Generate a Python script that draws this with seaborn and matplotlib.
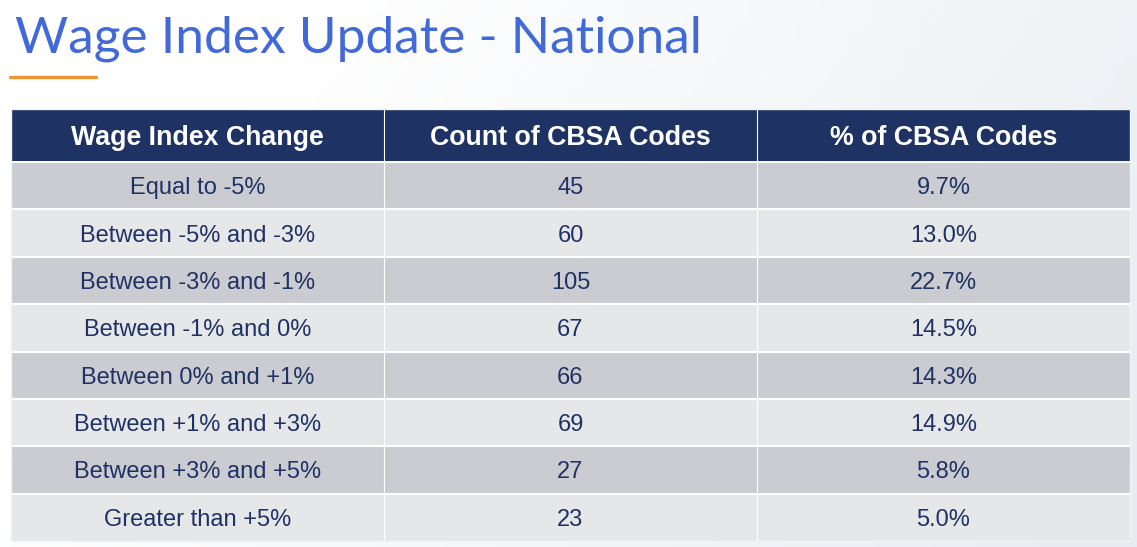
import matplotlib
matplotlib.use('Agg')

import numpy as np
import pandas as pd
import seaborn as sns
import matplotlib.pyplot as plt
from matplotlib.colors import ListedColormap

title = "Wage Index Update - National"
columns = ["Wage Index Change", "Count of CBSA Codes", "% of CBSA Codes"]
changes = ["Equal to -5%", "Between -5% and -3%", "Between -3% and -1%", "Between -1% and 0%",
           "Between 0% and +1%", "Between +1% and +3%", "Between +3% and +5%", "Greater than +5%"]
counts = [45, 60, 105, 67, 66, 69, 27, 23]
shares = [9.7, 13.0, 22.7, 14.5, 14.3, 14.9, 5.8, 5.0]

navy = "#1f3264"
dark_row = "#cbccd1"
light_row = "#e6e7e9"

df = pd.DataFrame({columns[0]: changes,
                   columns[1]: [str(c) for c in counts],
                   columns[2]: [f"{s:.1f}%" for s in shares]})

sns.set_theme(style="white")
plt.rcParams['font.family'] = ['Liberation Sans', 'DejaVu Sans']

W, H = 1137, 547
fig = plt.figure(figsize=(W / 100, H / 100), dpi=100)

# soft background gradient
bg = fig.add_axes([0, 0, 1, 1])
yy, xx = np.mgrid[0:1:50j, 0:1:100j]
grad = np.clip(xx * 0.9 + yy * 0.3 - 0.25, 0, 1)
bg.imshow(grad, cmap=ListedColormap(np.linspace([1, 1, 1], [0.91, 0.925, 0.945], 256)),
          aspect='auto', extent=[0, 1, 0, 1], origin='upper')
bg.set_axis_off()

fig.text(15 / W, 1 - 52 / H, title, fontsize=37, color="#4169d8", family=['Lato', 'DejaVu Sans'],
         va='baseline', ha='left')
fig.add_artist(plt.Line2D([10 / W, 96 / W], [1 - 76.5 / H, 1 - 76.5 / H], color="#f0962f", lw=2.4))

left, width = 11 / W, 1119 / W


def separators(ax, nrows, ncols):
    ax.hlines(np.arange(1, nrows), 0, ncols, color='white', lw=1.5)
    ax.vlines(np.arange(1, ncols), 0, nrows, color='white', lw=0.8)
    ax.set_axis_off()


# header row
hax = fig.add_axes([left, 1 - 161 / H, width, 52 / H])
sns.heatmap(np.zeros((1, 3)), ax=hax, cmap=ListedColormap([navy]), cbar=False,
            annot=np.array([columns]), fmt='', linewidths=0,
            annot_kws={'color': 'white', 'fontsize': 19.3, 'fontweight': 'bold', 'va': 'center_baseline'})
separators(hax, 1, 3)

# body rows
parity = np.repeat((np.arange(len(changes)) % 2)[:, None], 3, axis=1)
bax = fig.add_axes([left, 1 - 541 / H, width, 379 / H])
sns.heatmap(parity, ax=bax, cmap=ListedColormap([dark_row, light_row]), cbar=False, vmin=0, vmax=1,
            annot=df.values, fmt='', linewidths=0,
            annot_kws={'color': navy, 'fontsize': 17, 'va': 'center_baseline'})
separators(bax, len(changes), 3)
bax.axhline(0, color='white', lw=1.5)

# faint outline round the whole table
fig.add_artist(plt.Rectangle((left, 1 - 541 / H), width, 432 / H, fill=False,
                             edgecolor='#f2f3f6', lw=1))

fig.savefig("out.png", dpi=100)
